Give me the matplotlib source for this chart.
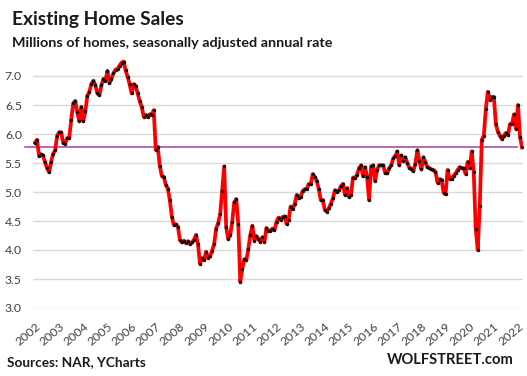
import matplotlib
matplotlib.use("Agg")
import matplotlib.pyplot as plt
import numpy as np

plt.rcParams['font.family'] = ['Lato', 'DejaVu Sans']

# monthly existing home sales, millions SAAR, Jan 2002 .. Mar 2022
sales = [
    # 2002
    5.85, 5.90, 5.62, 5.65, 5.63, 5.51, 5.41, 5.34, 5.52, 5.66, 5.72, 5.97,
    # 2003
    6.03, 6.03, 5.85, 5.83, 5.93, 5.93, 6.25, 6.53, 6.57, 6.38, 6.22, 6.47,
    # 2004
    6.22, 6.39, 6.66, 6.73, 6.86, 6.92, 6.84, 6.70, 6.67, 6.84, 6.95, 6.92,
    # 2005
    7.09, 6.88, 6.95, 7.05, 7.11, 7.12, 7.18, 7.23, 7.25, 7.10, 6.99, 6.86,
    # 2006
    6.70, 6.86, 6.83, 6.70, 6.57, 6.47, 6.30, 6.33, 6.29, 6.34, 6.33, 6.41,
    # 2007
    5.73, 5.78, 5.45, 5.28, 5.26, 5.12, 5.06, 4.86, 4.57, 4.43, 4.44, 4.40,
    # 2008
    4.17, 4.13, 4.16, 4.12, 4.15, 4.10, 4.13, 4.18, 4.26, 4.10, 3.76, 3.86,
    # 2009
    3.83, 3.97, 3.86, 3.89, 3.99, 4.10, 4.37, 4.46, 4.62, 5.02, 5.44, 4.39,
    # 2010
    4.19, 4.26, 4.49, 4.82, 4.88, 4.45, 3.45, 3.68, 3.84, 3.82, 4.02, 4.26,
    # 2011
    4.42, 4.16, 4.24, 4.19, 4.14, 4.22, 4.14, 4.38, 4.33, 4.33, 4.37, 4.34,
    # 2012
    4.49, 4.56, 4.52, 4.57, 4.58, 4.45, 4.52, 4.75, 4.71, 4.79, 4.95, 4.89,
    # 2013
    4.92, 5.02, 5.05, 5.05, 5.14, 5.14, 5.31, 5.26, 5.19, 5.05, 4.86, 4.86,
    # 2014
    4.69, 4.66, 4.72, 4.80, 4.89, 5.03, 5.00, 5.03, 5.10, 5.14, 4.95, 5.07,
    # 2015
    4.92, 4.95, 5.25, 5.24, 5.30, 5.41, 5.46, 5.27, 5.43, 5.26, 4.86, 5.44,
    # 2016
    5.46, 5.19, 5.38, 5.46, 5.46, 5.46, 5.33, 5.32, 5.41, 5.46, 5.58, 5.62,
    # 2017
    5.70, 5.46, 5.63, 5.54, 5.60, 5.50, 5.42, 5.40, 5.36, 5.49, 5.72, 5.54,
    # 2018
    5.39, 5.60, 5.51, 5.43, 5.41, 5.39, 5.38, 5.35, 5.16, 5.22, 5.21, 4.99,
    # 2019
    4.96, 5.38, 5.23, 5.23, 5.28, 5.32, 5.38, 5.43, 5.41, 5.41, 5.31, 5.52,
    # 2020
    5.41, 5.70, 5.35, 4.36, 4.00, 4.76, 5.90, 5.97, 6.43, 6.73, 6.59, 6.64,
    # 2021
    6.64, 6.17, 6.04, 5.97, 5.91, 5.97, 6.02, 5.98, 6.17, 6.17, 6.34, 6.09,
    # 2022
    6.50, 5.95, 5.77,
]
start_year = 2002
latest = 5.77
years = list(range(2002, 2023))
yticks = [3.0, 3.5, 4.0, 4.5, 5.0, 5.5, 6.0, 6.5, 7.0]

x = start_year + np.arange(len(sales)) / 12.0

W, H = 527, 376
fig = plt.figure(figsize=(W / 100, H / 100), dpi=100)
ax = fig.add_axes([33 / W, (H - 308) / H, 490 / W, (308 - 52.8) / H])

ax.plot(x, sales, color='#ff0000', lw=2.7, solid_joinstyle='round', zorder=3)
ax.plot(x, sales, 'o', color='#111111', ms=2.5, mec='none', zorder=4)
ax.axhline(latest, xmin=-0.016, xmax=0.988, color='#a040a8', lw=1.1,
           zorder=2, clip_on=False)

ax.set_xlim(2002 - 2 / 24.15, 2002 + 488 / 24.15)
ax.set_ylim(3.0, 7.4)
ax.set_yticks(yticks)
ax.set_yticklabels([f"{v:.1f}" for v in yticks])
ax.set_xticks(years)
ax.set_xticklabels([str(y) for y in years], rotation=40, ha='right',
                   rotation_mode='anchor')
ax.grid(axis='y', color='#d9d9d9', lw=1)
ax.set_axisbelow(True)
for s in ax.spines.values():
    s.set_visible(False)
ax.tick_params(axis='both', length=0, labelsize=8.8, colors='#404040')
ax.tick_params(axis='y', pad=8)
ax.tick_params(axis='x', pad=9)

fig.text(12 / W, 1 - 25 / H, "Existing Home Sales", fontsize=13.8,
         fontweight='bold', color='#1a1a1a')
fig.text(12 / W, 1 - 47 / H, "Millions of homes, seasonally adjusted annual rate",
         fontsize=10.4, fontweight='bold', color='#1a1a1a')
fig.text(7 / W, 1 - 366 / H, "Sources: NAR, YCharts", fontsize=9.8,
         fontweight='bold', color='#1a1a1a')
fig.text(514 / W, 1 - 364 / H, "WOLFSTREET.com", fontsize=10.6,
         fontweight='bold', color='#1a1a1a', ha='right')

fig.savefig("out.png", dpi=100)
